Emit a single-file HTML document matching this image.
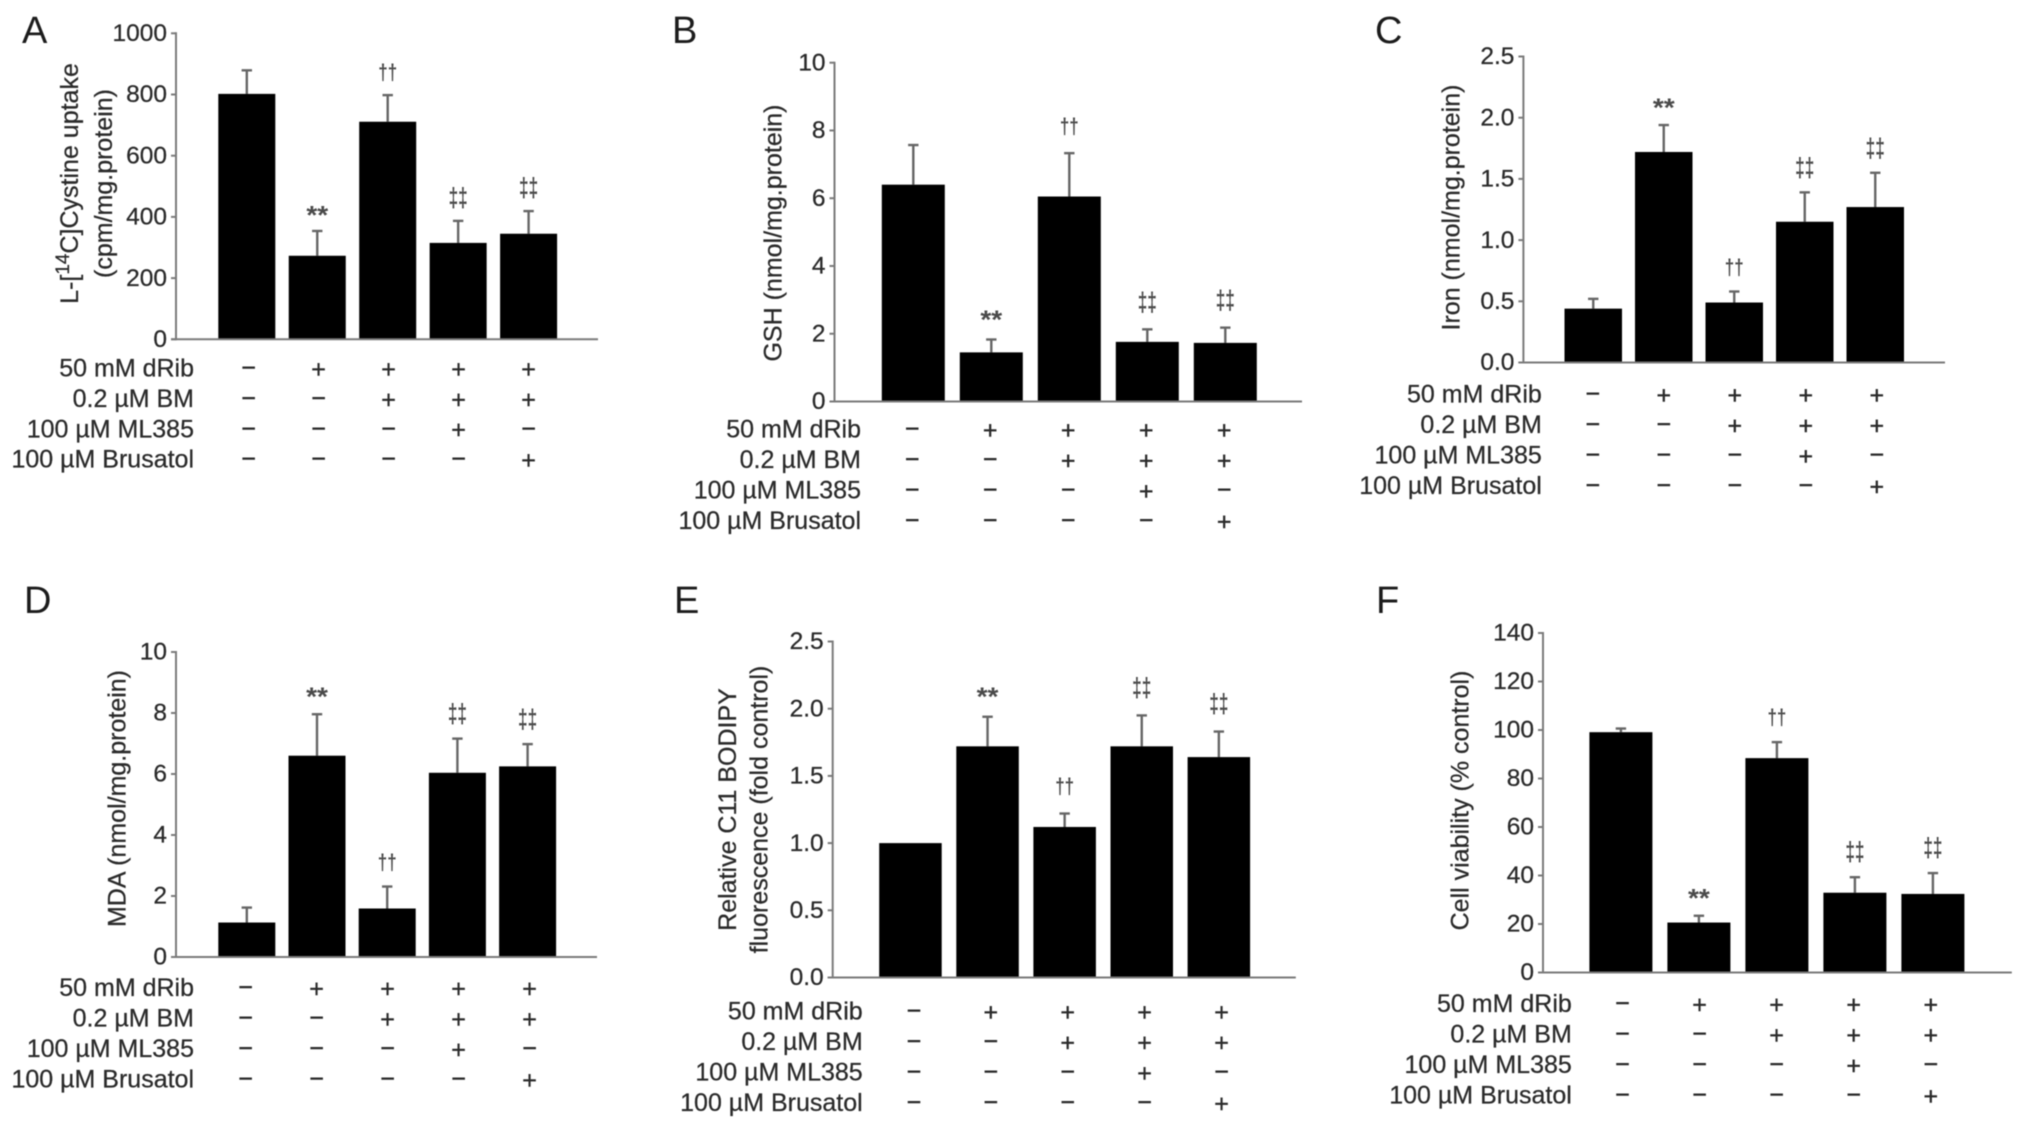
<!DOCTYPE html>
<html lang="en">
<head>
<meta charset="utf-8">
<title>Six-panel bar chart figure</title>
<style>
html,body{margin:0;padding:0;background:#fff;}
body{width:2032px;height:1129px;overflow:hidden;}
svg{display:block;filter:blur(0.6px);font-family:"Liberation Sans",Arial,sans-serif;}
</style>
</head>
<body>
<svg id="fig" xmlns="http://www.w3.org/2000/svg" width="2032" height="1129" viewBox="0 0 2032 1129"></svg>
<script>
// Shared treatment labels and +/- table
var treatmentLabels = ['50 mM dRib', '0.2 \u00B5M BM', '100 \u00B5M ML385', '100 \u00B5M Brusatol'];
var dRibRow = ['-', '+', '+', '+', '+'];
var bmRow = ['-', '-', '+', '+', '+'];
var ml385Row = ['-', '-', '-', '+', '-'];
var brusatolRow = ['-', '-', '-', '-', '+'];

// Panel A
var aTitle = ['L-[^14^C]Cystine uptake', '(cpm/mg.protein)'];
var aTicks = ['0', '200', '400', '600', '800', '1000'];
var aValues = [802, 273, 711, 315, 345];
var aErrorTops = [879, 354, 798, 387, 419];
var aMarks = ['', '**', '\u2020\u2020', '\u2021\u2021', '\u2021\u2021'];

// Panel B
var bTitle = ['GSH (nmol/mg.protein)'];
var bTicks = ['0', '2', '4', '6', '8', '10'];
var bValues = [6.40, 1.45, 6.05, 1.76, 1.73];
var bErrorTops = [7.57, 1.83, 7.33, 2.13, 2.18];
var bMarks = ['', '**', '\u2020\u2020', '\u2021\u2021', '\u2021\u2021'];

// Panel C
var cTitle = ['Iron (nmol/mg.protein)'];
var cTicks = ['0.0', '0.5', '1.0', '1.5', '2.0', '2.5'];
var cValues = [0.44, 1.72, 0.49, 1.15, 1.27];
var cErrorTops = [0.52, 1.94, 0.58, 1.39, 1.55];
var cMarks = ['', '**', '\u2020\u2020', '\u2021\u2021', '\u2021\u2021'];

// Panel D
var dTitle = ['MDA (nmol/mg.protein)'];
var dTicks = ['0', '2', '4', '6', '8', '10'];
var dValues = [1.13, 6.60, 1.59, 6.04, 6.25];
var dErrorTops = [1.62, 7.96, 2.31, 7.16, 6.98];
var dMarks = ['', '**', '\u2020\u2020', '\u2021\u2021', '\u2021\u2021'];

// Panel E
var eTitle = ['Relative C11 BODIPY', 'fluorescence (fold control)'];
var eTicks = ['0.0', '0.5', '1.0', '1.5', '2.0', '2.5'];
var eValues = [1.00, 1.72, 1.12, 1.72, 1.64];
var eErrorTops = [1.00, 1.94, 1.22, 1.95, 1.83];
var eMarks = ['', '**', '\u2020\u2020', '\u2021\u2021', '\u2021\u2021'];

// Panel F
var fTitle = ['Cell viability (% control)'];
var fTicks = ['0', '20', '40', '60', '80', '100', '120', '140'];
var fValues = [99.1, 20.6, 88.4, 32.9, 32.4];
var fErrorTops = [100.6, 23.4, 95, 39.3, 41];
var fMarks = ['', '**', '\u2020\u2020', '\u2021\u2021', '\u2021\u2021'];

var NS = 'http://www.w3.org/2000/svg';
var fig = document.getElementById('fig');
var TEXT = '#2a2a2a', AXIS = '#7a7a7a', WHISK = '#666666', MARK = '#4a4a4a';

function mk(tag, parent, attrs, txt) {
  var el = document.createElementNS(NS, tag);
  for (var k in attrs) el.setAttribute(k, attrs[k]);
  if (txt !== undefined) el.textContent = txt;
  parent.appendChild(el);
  return el;
}

function drawPanel(p) {
  var g = mk('g', fig, {});
  
  

  var maxV = parseFloat(p.ticks[p.ticks.length - 1]);
  function yScale(v) { return p.base - (v / maxV) * (p.base - p.top); }
  function barLeft(i) { return p.barX + i * p.pitch; }
  var el;

  el = mk('text', g, {x: p.letterX, y: p.letterY, 'font-size': 38, fill: '#1c1c1c'}, p.letter);
  
  

  // bars, whiskers, significance marks
  p.values.forEach(function (val, i) {
    var left = barLeft(i), cx = left + p.barW / 2, yv = yScale(val), ye = yScale(p.errs[i]);
    if (p.errs[i] > val) {
      var stem = mk('line', g, {x1: cx, x2: cx, y1: yv, y2: ye, stroke: WHISK, 'stroke-width': 2.4});
      
      
      var cap = mk('line', g, {x1: cx - 5.2, x2: cx + 5.2, y1: ye, y2: ye, stroke: WHISK, 'stroke-width': 2.4});
      
      
    }
    var bar = mk('rect', g, {x: left, y: yv, width: p.barW, height: p.base - yv, fill: '#000'});
    
    

    var m = p.marks[i];
    if (m) {
      var my = ye - p.markGap, fs, base, sx, sy;
      if (m === '**') { fs = 26; base = my + 14.5; sx = 1.08; sy = 1; }
      else if (m.charAt(0) === '\u2020') { fs = 20; base = my + 6; sx = 0.85; sy = 1.1; }
      else { fs = 20; base = my + 7; sx = 0.86; sy = 1.32; }
      var sig = mk('text', g, {transform: 'translate(' + cx + ',' + base + ') scale(' + sx + ',' + sy + ')', 'font-size': fs, 'font-weight': 'bold', 'text-anchor': 'middle', fill: MARK}, m);
      
      
    }
  });

  // axes
  el = mk('line', g, {x1: p.axisX, x2: p.axisX, y1: p.top - 1, y2: p.base + 1, stroke: AXIS, 'stroke-width': 2});
  
  
  el = mk('line', g, {x1: p.axisX - 5, x2: p.right, y1: p.base, y2: p.base, stroke: AXIS, 'stroke-width': 2});
  
  

  p.ticks.forEach(function (t) {
    var yy = yScale(parseFloat(t));
    var tick = mk('line', g, {x1: p.axisX - 5, x2: p.axisX, y1: yy, y2: yy, stroke: AXIS, 'stroke-width': 2});
    
    
    var lab = mk('text', g, {x: p.axisX - 9, y: yy + 7.7, 'font-size': 24.5, 'text-anchor': 'end', fill: TEXT, stroke: TEXT, 'stroke-width': 0.25}, t);
    
    
  });

  // axis title lines
  p.title.forEach(function (line, li) {
    var tx = p.titleX[li], ty = p.titleY;
    var t = mk('text', g, {transform: 'translate(' + tx + ',' + ty + ') rotate(-90)', 'text-anchor': 'middle', 'font-size': 25, fill: TEXT, stroke: TEXT, 'stroke-width': 0.25, y: 8.7});
    
    
    line.split('^').forEach(function (seg, si) {
      var attrs = {};
      if (si === 1) { attrs['font-size'] = 19; attrs.dy = -9; }
      if (si === 2) { attrs.dy = 9; }
      mk('tspan', t, attrs, seg);
    });
  });

  // treatment table
  var rows = [dRibRow, bmRow, ml385Row, brusatolRow];
  rows.forEach(function (row, r) {
    var ry = p.rowY + r * p.rowPitch;
    var lab = mk('text', g, {x: p.labelRight, y: ry + 8.7, 'font-size': 25, 'text-anchor': 'end', fill: TEXT, stroke: TEXT, 'stroke-width': 0.25}, treatmentLabels[r]);
    
    
    row.forEach(function (s, c) {
      var plus = s === '+';
      var sym = mk('text', g, {x: p.colX + c * p.colPitch, y: ry + (plus ? 9.6 : 8.2), 'font-size': 25, 'text-anchor': 'middle', fill: TEXT, stroke: TEXT, 'stroke-width': 0.4}, plus ? '+' : '\u2212');
      
      
    });
  });
}

drawPanel({letter: 'A', letterX: 22, letterY: 43, title: aTitle, ticks: aTicks, values: aValues, errs: aErrorTops, marks: aMarks,
  axisX: 176, top: 33.3, base: 339.3, right: 598, barX: 218.3, barW: 57, pitch: 70.45, markGap: 21.5,
  titleX: [69.5, 103.2], titleY: 183.5, labelRight: 194, colX: 248.5, colPitch: 70, rowY: 368, rowPitch: 30.3});
drawPanel({letter: 'B', letterX: 672, letterY: 43, title: bTitle, ticks: bTicks, values: bValues, errs: bErrorTops, marks: bMarks,
  axisX: 834.5, top: 62.7, base: 401.5, right: 1302, barX: 881.8, barW: 63, pitch: 78, markGap: 25.5,
  titleX: [772.8], titleY: 233, labelRight: 861, colX: 912.2, colPitch: 78, rowY: 429, rowPitch: 30.4});
drawPanel({letter: 'C', letterX: 1375, letterY: 43, title: cTitle, ticks: cTicks, values: cValues, errs: cErrorTops, marks: cMarks,
  axisX: 1523.4, top: 56.5, base: 362.5, right: 1945, barX: 1564.5, barW: 57.5, pitch: 70.5, markGap: 23,
  titleX: [1451], titleY: 207.5, labelRight: 1541.8, colX: 1592.8, colPitch: 71, rowY: 394, rowPitch: 30.4});
drawPanel({letter: 'D', letterX: 24, letterY: 613, title: dTitle, ticks: dTicks, values: dValues, errs: dErrorTops, marks: dMarks,
  axisX: 176, top: 652, base: 957, right: 597, barX: 218.3, barW: 57, pitch: 70.2, markGap: 23,
  titleX: [117], titleY: 798.5, labelRight: 194, colX: 245.6, colPitch: 71, rowY: 987.5, rowPitch: 30.4});
drawPanel({letter: 'E', letterX: 674, letterY: 613, title: eTitle, ticks: eTicks, values: eValues, errs: eErrorTops, marks: eMarks,
  axisX: 832.7, top: 641.5, base: 977.5, right: 1295.8, barX: 879.2, barW: 62.5, pitch: 77.1, markGap: 26,
  titleX: [727.3, 759], titleY: 809.5, labelRight: 862.7, colX: 913.9, colPitch: 76.9, rowY: 1011, rowPitch: 30.4});
drawPanel({letter: 'F', letterX: 1376, letterY: 613, title: fTitle, ticks: fTicks, values: fValues, errs: fErrorTops, marks: fMarks,
  axisX: 1543, top: 633, base: 972.5, right: 2011.8, barX: 1589.4, barW: 63, pitch: 78, markGap: 23.5,
  titleX: [1460], titleY: 800.5, labelRight: 1571.8, colX: 1622.4, colPitch: 77.1, rowY: 1003.5, rowPitch: 30.4});
</script>
</body>
</html>
